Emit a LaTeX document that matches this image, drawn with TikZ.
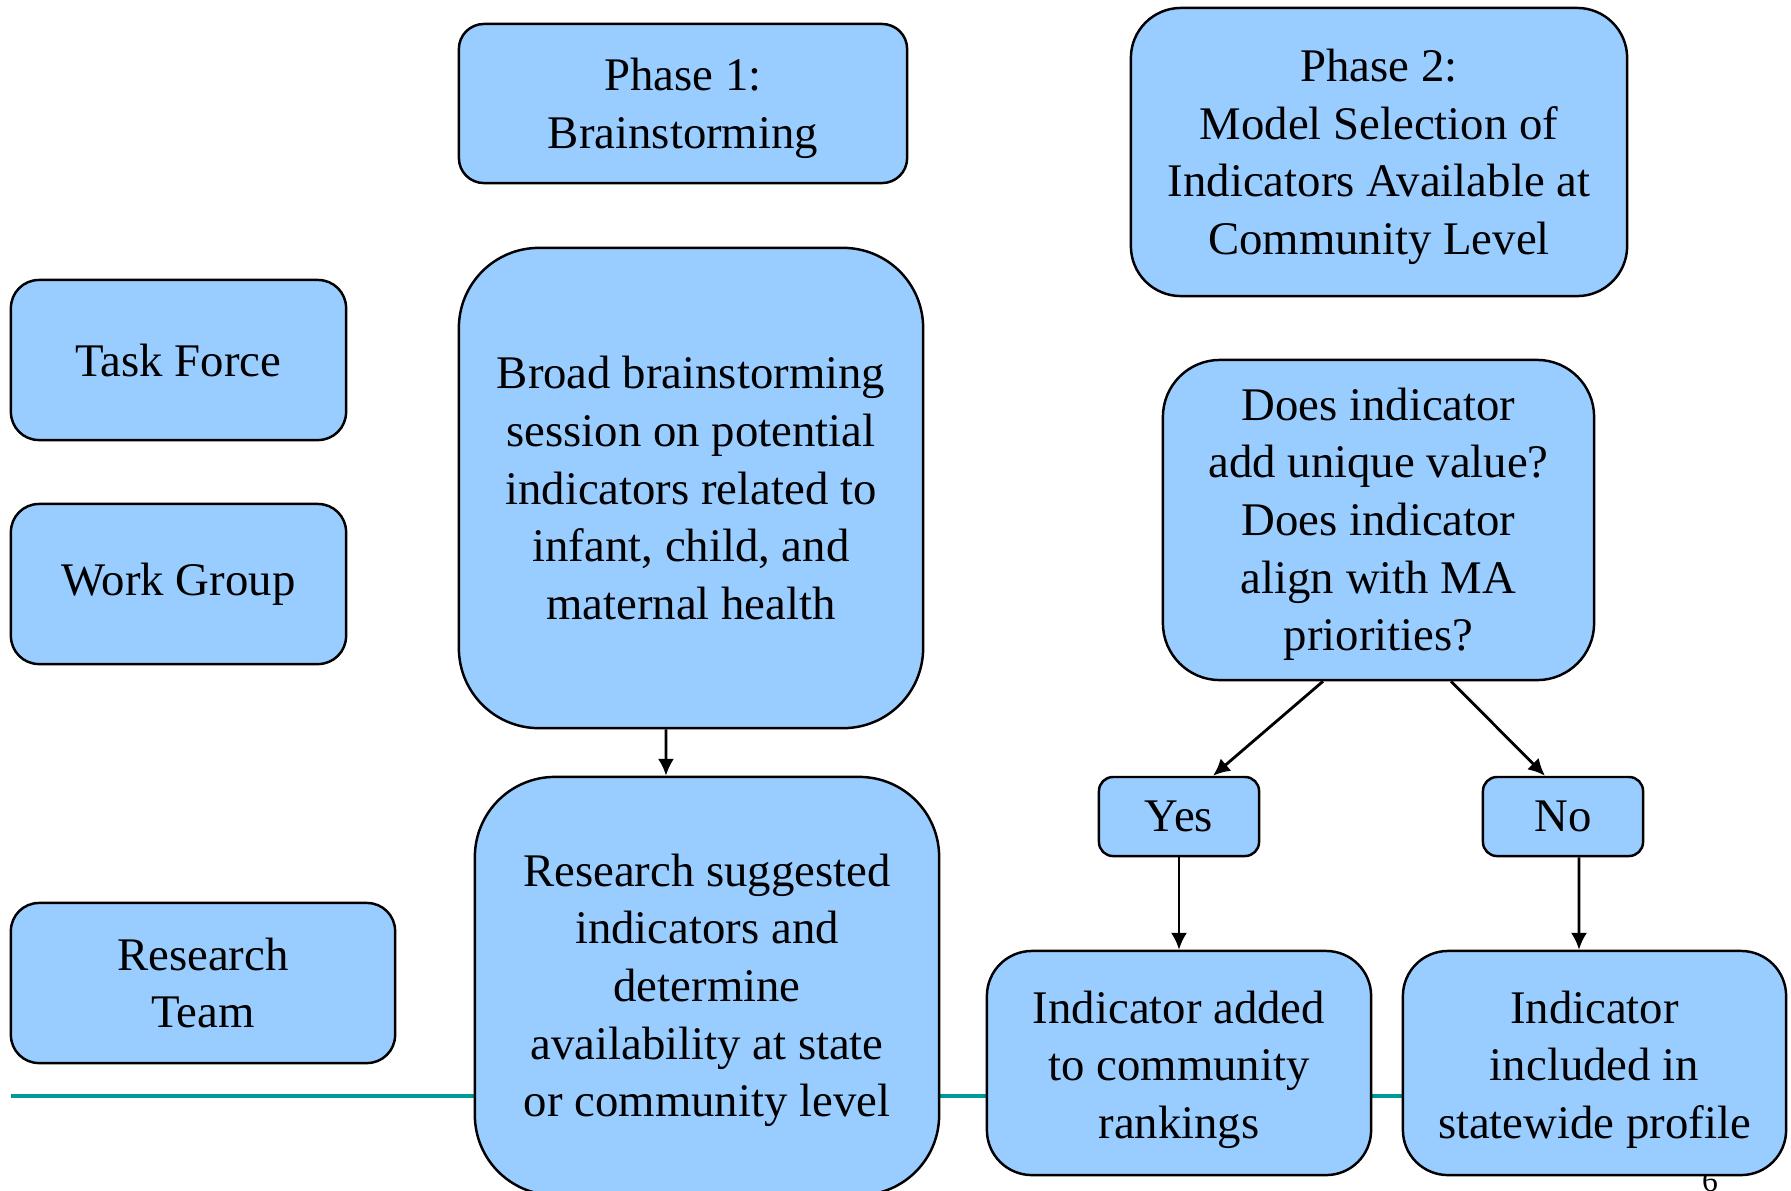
\documentclass[tikz,border=0pt]{standalone}
\usepackage{fontspec}
\setmainfont{Liberation Serif}
\usetikzlibrary{arrows.meta}
\definecolor{boxblue}{HTML}{99CCFF}
\definecolor{ruleteal}{HTML}{009999}
\newcommand{\textlift}[1]{\rule{0pt}{#1}}

\begin{document}
\begin{tikzpicture}[x=0.01cm, y=-0.01cm,
  box/.style={draw, fill=boxblue, line width=0.7pt, align=center, inner sep=0pt,
    font=\fontsize{13.3}{16.4}\selectfont},
  arr/.style={-{Latex[length=4.8pt,width=4.6pt]}, line width=0.8pt}]

  \useasboundingbox (0,0) rectangle (1791,1190);
  \clip (0,0) rectangle (1791,1190);

  % Rule and page number
  \draw[ruleteal, line width=1.2pt] (11,1096) -- (1420,1096);
  \node[anchor=north, inner sep=0pt, font=\fontsize{9}{10}\selectfont] (pagenum) at (1710,1170) {6};

  % Phase headers
  \node[box, rounded corners=0.25cm, minimum width=4.48cm, minimum height=1.59cm] (phase1) at (683,103.5) {\textlift{12pt}Phase 1:\\Brainstorming};
  \node[box, rounded corners=0.5cm, minimum width=4.96cm, minimum height=2.88cm] (phase2) at (1379,152) {\textlift{12pt}Phase 2:\\Model Selection of\\Indicators Available at\\Community Level};

  % Groups
  \node[box, rounded corners=0.28cm, minimum width=3.35cm, minimum height=1.6cm] (taskforce) at (178.5,360) {Task Force};
  \node[box, rounded corners=0.28cm, minimum width=3.35cm, minimum height=1.6cm] (workgroup) at (178.5,584) {Work Group};
  \node[box, rounded corners=0.28cm, minimum width=3.84cm, minimum height=1.6cm] (resteam) at (203,983) {Research\\Team};

  % Phase 1 steps
  \node[box, rounded corners=0.8cm, minimum width=4.64cm, minimum height=4.8cm] (broad) at (691,488) {Broad brainstorming\\session on potential\\indicators related to\\infant, child, and\\maternal health};
  \node[box, rounded corners=0.8cm, minimum width=4.64cm, minimum height=4.18cm] (suggested) at (707,986) {\textlift{11.6pt}Research suggested\\indicators and\\determine\\availability at state\\or community level};

  % Phase 2 steps
  \node[box, rounded corners=0.57cm, minimum width=4.31cm, minimum height=3.2cm] (question) at (1378.5,520) {\textlift{11.6pt}Does indicator\\add unique value?\\Does indicator\\align with MA\\priorities?};
  \node[box, rounded corners=0.14cm, minimum width=1.6cm, minimum height=0.79cm] (yes) at (1179,816.5) {Yes};
  \node[box, rounded corners=0.14cm, minimum width=1.6cm, minimum height=0.79cm] (no) at (1563,816.5) {No};
  \node[box, rounded corners=0.45cm, minimum width=3.84cm, minimum height=2.24cm] (added) at (1179,1063) {\textlift{13pt}Indicator added\\to community\\rankings};
  \node[box, rounded corners=0.45cm, minimum width=3.83cm, minimum height=2.24cm] (included) at (1594.5,1063) {\textlift{13pt}Indicator\\included in\\statewide profile};

  % Arrows
  \draw[arr] ([xshift=-0.25cm]broad.south) -- ([xshift=-0.41cm]suggested.north);
  \draw[arr] ([xshift=-0.555cm]question.south) -- ([xshift=0.34cm]yes.north);
  \draw[arr] ([xshift=0.725cm]question.south) -- ([xshift=-0.18cm]no.north);
  \draw[arr] (yes.south) -- (added.north);
  \draw[arr] ([xshift=0.16cm]no.south) -- ([xshift=-0.155cm]included.north);

\end{tikzpicture}
\end{document}
